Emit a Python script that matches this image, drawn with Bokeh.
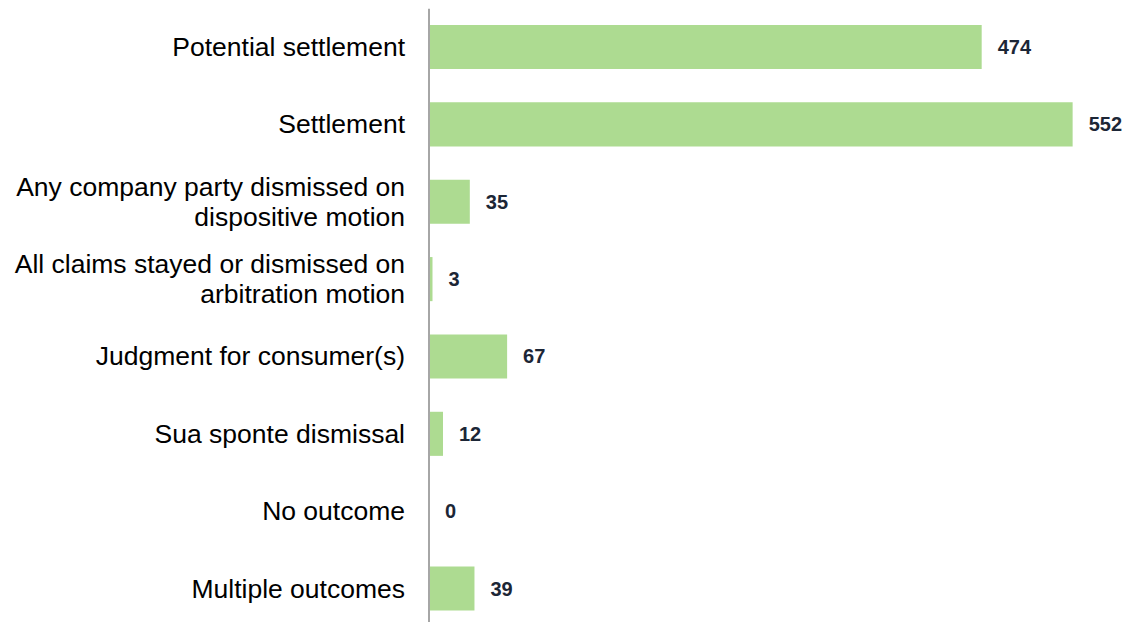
from bokeh.plotting import figure
from bokeh.models import ColumnDataSource, Range1d, Span
from bokeh.core.properties import value
from bokeh.embed import file_html
from bokeh.resources import INLINE

categories = [
    "Potential settlement",
    "Settlement",
    "Any company party dismissed on\ndispositive motion",
    "All claims stayed or dismissed on\narbitration motion",
    "Judgment for consumer(s)",
    "Sua sponte dismissal",
    "No outcome",
    "Multiple outcomes",
]
values = [474, 552, 35, 3, 67, 12, 0, 39]

ys = list(range(len(categories)))
src = ColumnDataSource(dict(y=ys, v=values, cat=categories,
                            vt=[str(v) for v in values], zero=[0] * len(values)))

p = figure(width=1126, height=622, output_backend="svg", toolbar_location=None,
           x_range=Range1d(-367.5, 598.2), y_range=Range1d(7.439, -0.498),
           min_border=0, min_border_top=8, outline_line_color=None,
           background_fill_color="white")
p.xaxis.visible = False
p.yaxis.visible = False
p.xgrid.grid_line_color = None
p.ygrid.grid_line_color = None

p.hbar(y="y", left=0, right="v", height=0.57, source=src,
       fill_color="#addb91", line_color=None)

p.add_layout(Span(location=0, dimension="height", line_color="#a6a6a6", line_width=2))

p.text(x="zero", y="y", text="cat", source=src, x_offset=-24,
       text_align="right", text_baseline="middle",
       text_font=value("Liberation Sans"), text_font_size="26.5px",
       text_color="black", text_line_height=1.0)

p.text(x="v", y="y", text="vt", source=src, x_offset=16,
       text_align="left", text_baseline="middle",
       text_font=value("Liberation Sans"), text_font_size="20px",
       text_font_style="bold", text_color="#1c2636")

open("out.html", "w").write(file_html(p, INLINE))
